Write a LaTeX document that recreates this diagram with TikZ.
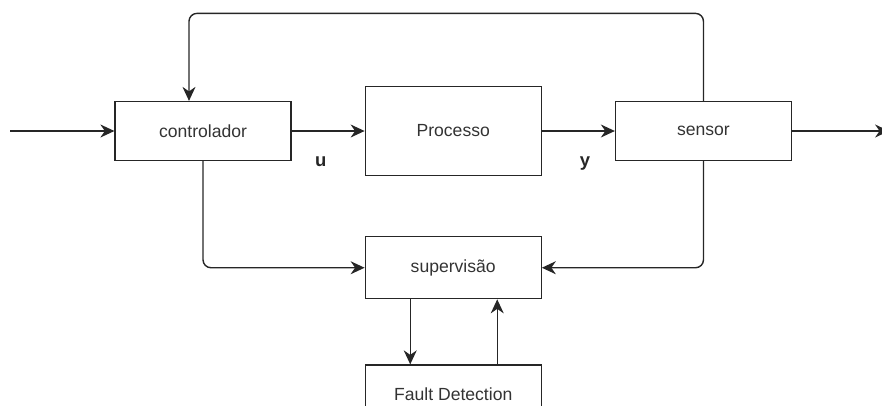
\documentclass[tikz,border=0pt]{standalone}
\usepackage{fontspec}
\setmainfont{Liberation Sans}
\usetikzlibrary{arrows.meta,positioning}

\begin{document}
\begin{tikzpicture}[
  node distance=1.2cm and 1.46cm,
  block/.style={draw=black!85, line width=0.7pt, align=center, minimum width=3.52cm, minimum height=1.18cm, text=black!80, font=\fontsize{10}{12}\selectfont},
  arrow/.style={-{Stealth[length=2.8mm,width=2.6mm,inset=0.9mm]}, line width=0.8pt, draw=black!85, rounded corners=4.5pt},
  lbl/.style={font=\fontsize{10.5}{12}\selectfont\bfseries, text=black!85, inner sep=0pt}
]
\useasboundingbox (0,0) rectangle (17.64,-8.1);

\node[block] (ctrl) at (4.06,-2.62) {controlador};
\node[block, right=of ctrl, minimum height=1.78cm] (proc) {Processo};
\node[block, right=of proc] (sensor) {sensor};
\node[block, below=of proc, minimum height=1.24cm] (sup) {supervisão};
\node[block, below=1.3cm of sup] (fault) {Fault Detection};

\coordinate[left=2.08cm of ctrl] (in);
\coordinate[right=1.94cm of sensor] (out);

\draw[arrow] (in) -- (ctrl);
\draw[arrow] (ctrl) -- node[lbl, pos=0.4, below=0.5cm] {u} (proc);
\draw[arrow] (proc) -- node[lbl, pos=0.59, below=0.5cm] {y} (sensor);
\draw[arrow] (sensor) -- (out);
\draw[arrow] (sensor.north) -- ++(0,1.75) -| ([xshift=-0.28cm]ctrl.north);
\draw[arrow] (ctrl.south) |- (sup.west);
\draw[arrow] (sensor.south) |- (sup.east);
\draw[arrow] ([xshift=-0.86cm]sup.south) -- ([xshift=-0.86cm]fault.north);
\draw[arrow] ([xshift=0.88cm]fault.north) -- ([xshift=0.88cm]sup.south);
\end{tikzpicture}
\end{document}
